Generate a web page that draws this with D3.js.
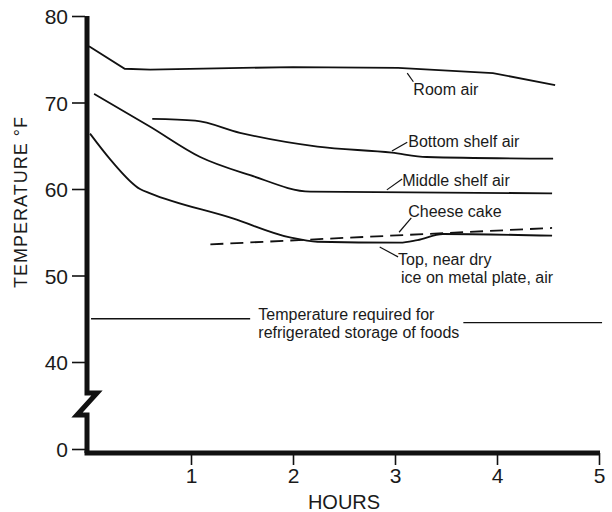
<!DOCTYPE html>
<html>
<head>
<meta charset="utf-8">
<script src="https://cdn.jsdelivr.net/npm/d3@7/dist/d3.min.js"></script>
<style>
  body { margin: 0; background: #fff; }
  text { font-family: "Liberation Sans", Arial, sans-serif; fill: #1a1a1a; }
  .line { fill: none; stroke: #111; stroke-width: 1.8; }
  .leader { stroke: #111; stroke-width: 1.2; }
  .axis .tick line { stroke: #111; stroke-width: 1.6; }
</style>
</head>
<body>
<div id="graph"></div>
<script>
// hours on x, deg F on y
const hourTicks = [1, 2, 3, 4, 5];
const tempTicks = [0, 40, 50, 60, 70, 80];

const roomAir = [[0, 76.5], [0.35, 73.9], [0.6, 73.8], [2.0, 74.1], [3.03, 74.0], [3.96, 73.4], [4.57, 72.0]];
const bottomShelfAir = [[0.62, 68.1], [1.04, 67.9], [1.48, 66.5], [2.24, 64.9], [2.97, 64.2], [3.31, 63.7], [4.55, 63.5]];
const middleShelfAir = [[0.05, 71.0], [0.6, 67.2], [1.09, 63.7], [1.58, 61.6], [2.17, 59.7], [4.54, 59.5]];
const topNearDryIce = [[0.01, 66.4], [0.21, 63.4], [0.5, 60.0], [0.6, 59.5], [1.41, 56.6], [1.97, 54.4], [2.24, 53.9],
  [3.05, 53.8], [3.22, 54.1], [3.47, 54.8], [4.54, 54.6]];
const cheeseCake = [[1.19, 53.6], [4.54, 55.5]];
const storageTemp = 45;

const width = 612, height = 512;

const svg = d3.select('#graph')
  .append('svg')
  .attr('width', width)
  .attr('height', height);

const x = d3.scaleLinear().domain([0, 5]).range([89, 599]);
// broken axis: 0 sits just below the break, 40..80 linear above it
const y = d3.scaleLinear().domain([0, 40, 80]).range([449, 362, 16]);

const axisX = 87;
const axisY = 453;

// y axis ticks and labels
const yAxis = svg.append('g')
  .attr('class', 'axis')
  .attr('transform', `translate(${axisX - 2}, 0)`)
  .call(d3.axisLeft(y).tickValues(tempTicks).tickFormat(d3.format('d')).tickSize(13).tickPadding(4));
yAxis.select('.domain').remove();
yAxis.selectAll('text')
  .style('font-size', '21px')
  .attr('dy', '0.36em');

// thick y axis with the zigzag break
svg.append('path')
  .attr('d', `M${axisX},${y(80)} V393 H${axisX + 10} L${axisX - 10},415 H${axisX} V${axisY}`)
  .style('fill', 'none')
  .style('stroke', '#111')
  .style('stroke-width', 5)
  .style('stroke-linejoin', 'miter');

// x axis
const xAxis = svg.append('g')
  .attr('class', 'axis')
  .attr('transform', `translate(0, ${axisY})`)
  .call(d3.axisBottom(x).tickValues(hourTicks).tickFormat(d3.format('d')).tickSize(12).tickPadding(3));
xAxis.select('.domain').remove();
xAxis.selectAll('text').style('font-size', '21px');

svg.append('line')
  .attr('x1', axisX - 2.5).attr('x2', x(5) + 1)
  .attr('y1', axisY).attr('y2', axisY)
  .style('stroke', '#111')
  .style('stroke-width', 5);

// axis titles
svg.append('text')
  .attr('x', x(2.5))
  .attr('y', 509)
  .attr('text-anchor', 'middle')
  .style('font-size', '20px')
  .text('HOURS');

svg.append('text')
  .attr('transform', `translate(27, ${y(58.5)}) rotate(-90)`)
  .attr('text-anchor', 'middle')
  .style('font-size', '18px')
  .style('letter-spacing', '1px')
  .text('TEMPERATURE °F');

// curves
const line = d3.line()
  .x(d => x(d[0]))
  .y(d => y(d[1]));

svg.append('path').attr('class', 'line').attr('d', line(roomAir));
svg.append('path').attr('class', 'line').attr('d', line.curve(d3.curveMonotoneX)(bottomShelfAir));
svg.append('path').attr('class', 'line').attr('d', line.curve(d3.curveMonotoneX)(middleShelfAir));
svg.append('path').attr('class', 'line').attr('d', line.curve(d3.curveMonotoneX)(topNearDryIce));
svg.append('path').attr('class', 'line')
  .attr('d', line.curve(d3.curveLinear)(cheeseCake))
  .style('stroke-dasharray', '13 7');

// storage temperature reference line, split around its label
const refSegments = [[0.02, 1.58, storageTemp], [3.67, 5.03, storageTemp - 0.45]];
svg.selectAll('.ref-line')
  .data(refSegments)
  .enter()
  .append('line')
  .attr('class', 'ref-line')
  .attr('x1', d => x(d[0])).attr('x2', d => x(d[1]))
  .attr('y1', d => y(d[2])).attr('y2', d => y(d[2]))
  .style('stroke', '#111')
  .style('stroke-width', 1.3);

// labels with their little leader lines (hours, temp)
const notes = [
  { lines: ['Room air'], at: [3.18, 70.9], leader: [[3.12, 73.4], [3.18, 72.4]] },
  { lines: ['Bottom shelf air'], at: [3.13, 64.85], leader: [[2.97, 64.4], [3.12, 65.4]] },
  { lines: ['Middle shelf air'], at: [3.07, 60.35], leader: [[2.92, 59.9], [3.07, 61.15]] },
  { lines: ['Cheese cake'], at: [3.13, 56.8], leader: [[3.04, 55.0], [3.16, 56.65]] },
  { lines: ['Top, near dry', 'ice on metal plate, air'], at: [3.03, 51.2], leader: [[2.85, 53.3], [3.03, 52.15]] },
  { lines: ['Temperature required for', 'refrigerated storage of foods'], at: [1.66, 44.85], leader: null }
];

notes.forEach(n => {
  const t = svg.append('text')
    .attr('x', x(n.at[0]))
    .attr('y', y(n.at[1]))
    .style('font-size', '16px');
  n.lines.forEach((s, i) => {
    t.append('tspan')
      .attr('x', x(n.at[0]) + (i > 0 && n.leader ? 3 : 0))
      .attr('dy', i === 0 ? 0 : '1.1em')
      .text(s);
  });
  if (n.leader) {
    svg.append('line')
      .attr('class', 'leader')
      .attr('x1', x(n.leader[0][0])).attr('y1', y(n.leader[0][1]))
      .attr('x2', x(n.leader[1][0])).attr('y2', y(n.leader[1][1]));
  }
});
</script>
</body>
</html>
